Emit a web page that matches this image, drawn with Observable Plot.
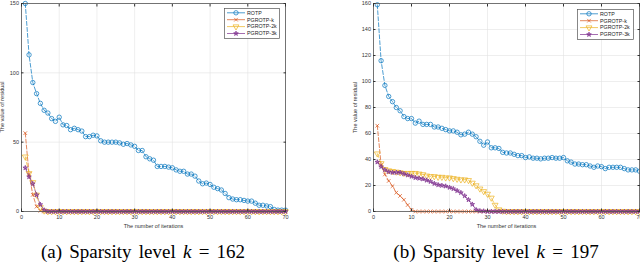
<!DOCTYPE html>
<html>
<head>
<meta charset="utf-8">
<script src="https://cdn.jsdelivr.net/npm/d3@7"></script>
<script src="https://cdn.jsdelivr.net/npm/@observablehq/plot@0.6"></script>
<style>
  html, body { margin: 0; padding: 0; background: #fff; }
  #fig { position: relative; width: 640px; height: 263px; overflow: hidden; background: #fff; }
  .panel { position: absolute; top: 0; width: 320px; height: 232px; }
  .legend { position: absolute; }
  .cap { position: absolute; top: 242px; font-family: "Liberation Serif", "Times New Roman", "DejaVu Serif", serif; font-size: 19px; word-spacing: 2.5px; white-space: nowrap; color: #000; transform: translateX(-50%); line-height: 1; }
  .cap i { font-style: italic; }
  .ylab { position: absolute; font-family: "Liberation Sans", Arial, sans-serif; font-size: 5.5px; color: #333; white-space: nowrap; line-height: 1; transform: translate(-50%, -50%) rotate(-90deg); }
</style>
</head>
<body>
<div id="fig"></div>
<script>
// ---------------- data ----------------
const iterations = [1,2,3,4,5,6,7,8,9,10,11,12,13,14,15,16,17,18,19,20,21,22,23,24,25,26,27,28,29,30,31,32,33,34,35,36,37,38,39,40,41,42,43,44,45,46,47,48,49,50,51,52,53,54,55,56,57,58,59,60,61,62,63,64,65,66,67,68,69,70];
const xTicks = [0,10,20,30,40,50,60,70];
const yTicksA = [0,50,100,150];
const yTicksB = [0,20,40,60,80,100,120,140,160];
const seriesNames = ["ROTP","PGROTP-k","PGROTP-2k","PGROTP-3k"];
const seriesColors = ["#0072BD","#D95319","#EDB120","#7E2F8E"];
const xLabel = "The number of iterations";
const yLabel = "The value of residual";
const captionLabels = ["(a)","(b)"];
const sparsityK = [162, 197];

// panel (a): k = 162
const rotpA = [150,113,93,85,78,73,71,67,65,68,
  62.5,62,59,60,59,58,54,54,55,54.5,
  51,50,50,50,50,49.5,48.5,49,48,47,
  44,44,39.5,38,37,32.5,32.5,32.5,32,31.5,
  30,29,29,27,27,25.5,22,20,20.5,19.5,
  17.5,16.5,15.5,13,10,9,8.5,8.5,8,7.5,
  7.5,6,4.5,4.5,4,3.5,1.5,1,1,1];
const pgkA = [56.5,27,12,3.5,0.5,0,0,0,0,0,
  0,0,0,0,0,0,0,0,0,0, 0,0,0,0,0,0,0,0,0,0,
  0,0,0,0,0,0,0,0,0,0, 0,0,0,0,0,0,0,0,0,0,
  0,0,0,0,0,0,0,0,0,0, 0,0,0,0,0,0,0,0,0,0];
const pg2kA = [39.5,27.5,21,12,3,0.5,0,0,0,0,
  0,0,0,0,0,0,0,0,0,0, 0,0,0,0,0,0,0,0,0,0,
  0,0,0,0,0,0,0,0,0,0, 0,0,0,0,0,0,0,0,0,0,
  0,0,0,0,0,0,0,0,0,0, 0,0,0,0,0,0,0,0,0,0];
const pg3kA = [31.5,25,20,12,5,1,0,0,0,0,
  0,0,0,0,0,0,0,0,0,0, 0,0,0,0,0,0,0,0,0,0,
  0,0,0,0,0,0,0,0,0,0, 0,0,0,0,0,0,0,0,0,0,
  0,0,0,0,0,0,0,0,0,0, 0,0,0,0,0,0,0,0,0,0];

// panel (b): k = 197
const rotpB = [159,116,97,88.5,84.5,80,77.5,73,71.5,71.5,
  68,69.5,67,67,67,65,65,64,63,62,
  62,61,59,59.5,61,59.5,57.5,54,51,53.5,
  49,49,48.5,45.5,45,45,44,43,43,41.5,
  42,41,41,40.5,41,41,41.5,41,41,41.5,
  39,38,36.5,36.5,36,36,35,34,35,34.5,
  33,34,34,34,34,33,32,32,32,31];
const pgkB = [66,36,28.5,23.5,19.5,14.5,12,9,5,1.3,
  0,0,0,0,0,0,0,0,0,0, 0,0,0,0,0,0,0,0,0,0,
  0,0,0,0,0,0,0,0,0,0, 0,0,0,0,0,0,0,0,0,0,
  0,0,0,0,0,0,0,0,0,0, 0,0,0,0,0,0,0,0,0,0];
const pg2kB = [44.5,37,32.5,31.5,31,30.5,30,29.5,29.5,29.5,
  29.5,29,28.5,27.5,27,27,26.5,26.5,26,26,
  25.5,25,24.5,24.5,24,22,20,17.5,15.5,13.5,
  10.5,5,1.5,0.4,0,0,0,0,0,0,
  0,0,0,0,0,0,0,0,0,0, 0,0,0,0,0,0,0,0,0,0,
  0,0,0,0,0,0,0,0,0,0];
const pg3kB = [38,34.5,32,30.5,30,30,30,29,28,27,
  26,25.5,25,24,23,21.5,20.5,20,19.5,18.5,
  17.5,16,14.5,12,9,5.5,1.3,0.5,0.3,0,
  0,0,0,0,0,0,0,0,0,0, 0,0,0,0,0,0,0,0,0,0,
  0,0,0,0,0,0,0,0,0,0, 0,0,0,0,0,0,0,0,0,0];

// ---------------- styling ----------------
const markerSpecs = [
  {symbol: "circle", r: 2.2, fill: "none", rotate: 0},
  {symbol: "times", r: 1.8, fill: "none", rotate: 0},
  {symbol: "triangle", r: 2.2, fill: "none", rotate: 180},
  {symbol: "star", r: 1.45, fill: "fill", rotate: 0}
];

function rows(values, name) {
  return iterations.map((x, i) => ({x, y: values[i], series: name}));
}

function panel(seriesValues, yTicks, yMax, opts) {
  const marks = [
    Plot.gridX(xTicks, {stroke: "#e2e2e2", strokeOpacity: 1, strokeWidth: 0.6}),
    Plot.gridY(yTicks, {stroke: "#e2e2e2", strokeOpacity: 1, strokeWidth: 0.6}),
  ];
  seriesValues.forEach((vals, s) => {
    const data = rows(vals, seriesNames[s]);
    const c = seriesColors[s];
    const m = markerSpecs[s];
    marks.push(Plot.line(data, {x: "x", y: "y", stroke: c, strokeWidth: 0.7, strokeDasharray: "4,2"}));
    marks.push(Plot.dot(data, {
      x: "x", y: "y", symbol: () => m.symbol, r: m.r, rotate: m.rotate,
      stroke: c, strokeWidth: 0.7,
      fill: m.fill === "fill" ? c : "none", fillOpacity: m.fill === "fill" ? 0.55 : 1
    }));
  });
  marks.push(
    Plot.frame({stroke: "#555", strokeWidth: 0.8}),
    Plot.axisX(xTicks, {anchor: "bottom", tickSize: -2.5, tickPadding: 6.5, fontSize: 5.5,
      label: xLabel, labelAnchor: "center", labelOffset: 16, labelArrow: "none"}),
    Plot.axisX(xTicks, {anchor: "top", tickSize: -2.5, tickFormat: () => "", label: null}),
    Plot.axisY(yTicks, {anchor: "left", tickSize: -2.5, tickPadding: 5, fontSize: 5.5,
      label: opts.plotYLabel ? yLabel : null, labelAnchor: "center", labelOffset: 20, labelArrow: "none"}),
    Plot.axisY(yTicks, {anchor: "right", tickSize: -2.5, tickFormat: () => "", label: null})
  );
  return Plot.plot({
    width: 320, height: 232,
    marginLeft: opts.marginLeft, marginRight: opts.marginRight, marginTop: 3, marginBottom: 21,
    x: {domain: [0, 70]},
    y: {domain: [0, yMax]},
    symbol: {type: "identity"},
    style: {fontFamily: "'Liberation Sans', Arial, sans-serif", fontSize: "5.5px", color: "#333", background: "transparent", overflow: "visible"},
    marks
  });
}

function legend(container, left, top, w, h) {
  const svg = d3.select(container).append("svg")
    .attr("class", "legend")
    .style("left", left + "px").style("top", top + "px")
    .attr("width", w + 1).attr("height", h + 1);
  svg.append("rect").attr("x", 0.5).attr("y", 0.5).attr("width", w).attr("height", h)
    .attr("fill", "#fff").attr("stroke", "#555").attr("stroke-width", 0.7);
  const symMap = {circle: d3.symbolCircle, times: d3.symbolTimes, triangle: d3.symbolTriangle, star: d3.symbolStar};
  seriesNames.forEach((name, i) => {
    const y = 4.8 + i * 6.9;
    const c = seriesColors[i];
    const m = markerSpecs[i];
    svg.append("line").attr("x1", 3).attr("x2", 21).attr("y1", y).attr("y2", y)
      .attr("stroke", c).attr("stroke-width", 0.7);
    svg.append("path")
      .attr("d", d3.symbol(symMap[m.symbol], Math.PI * m.r * m.r)())
      .attr("transform", `translate(12,${y}) rotate(${m.rotate})`)
      .attr("stroke", c).attr("stroke-width", 0.7)
      .attr("fill", m.fill === "fill" ? c : "none").attr("fill-opacity", m.fill === "fill" ? 0.55 : 1);
    svg.append("text").attr("x", 23).attr("y", y).attr("dy", "0.35em")
      .attr("font-family", "'Liberation Sans', Arial, sans-serif").attr("font-size", "5.3px")
      .attr("fill", "#222").text(name);
  });
}

const fig = document.getElementById("fig");

const pa = document.createElement("div");
pa.className = "panel"; pa.style.left = "0px";
pa.appendChild(panel([rotpA, pgkA, pg2kA, pg3kA], yTicksA, 150, {marginLeft: 21, marginRight: 35, plotYLabel: false}));
fig.appendChild(pa);

// y-axis title of panel (a), which sits at the very left edge of the figure
const yl = document.createElement("div");
yl.className = "ylab";
yl.style.left = "3px"; yl.style.top = "107px";
yl.textContent = yLabel;
fig.appendChild(yl);

const pb = document.createElement("div");
pb.className = "panel"; pb.style.left = "320px";
pb.appendChild(panel([rotpB, pgkB, pg2kB, pg3kB], yTicksB, 160, {marginLeft: 53, marginRight: 1, plotYLabel: true}));
fig.appendChild(pb);

legend(fig, 224, 8, 55, 30);
legend(fig, 577, 9, 56, 30);

const capCenters = [143, 496];
capCenters.forEach((cx, i) => {
  const d = document.createElement("div");
  d.className = "cap";
  d.style.left = cx + "px";
  d.innerHTML = `${captionLabels[i]} Sparsity level <i>k</i> = ${sparsityK[i]}`;
  fig.appendChild(d);
});
</script>
</body>
</html>
